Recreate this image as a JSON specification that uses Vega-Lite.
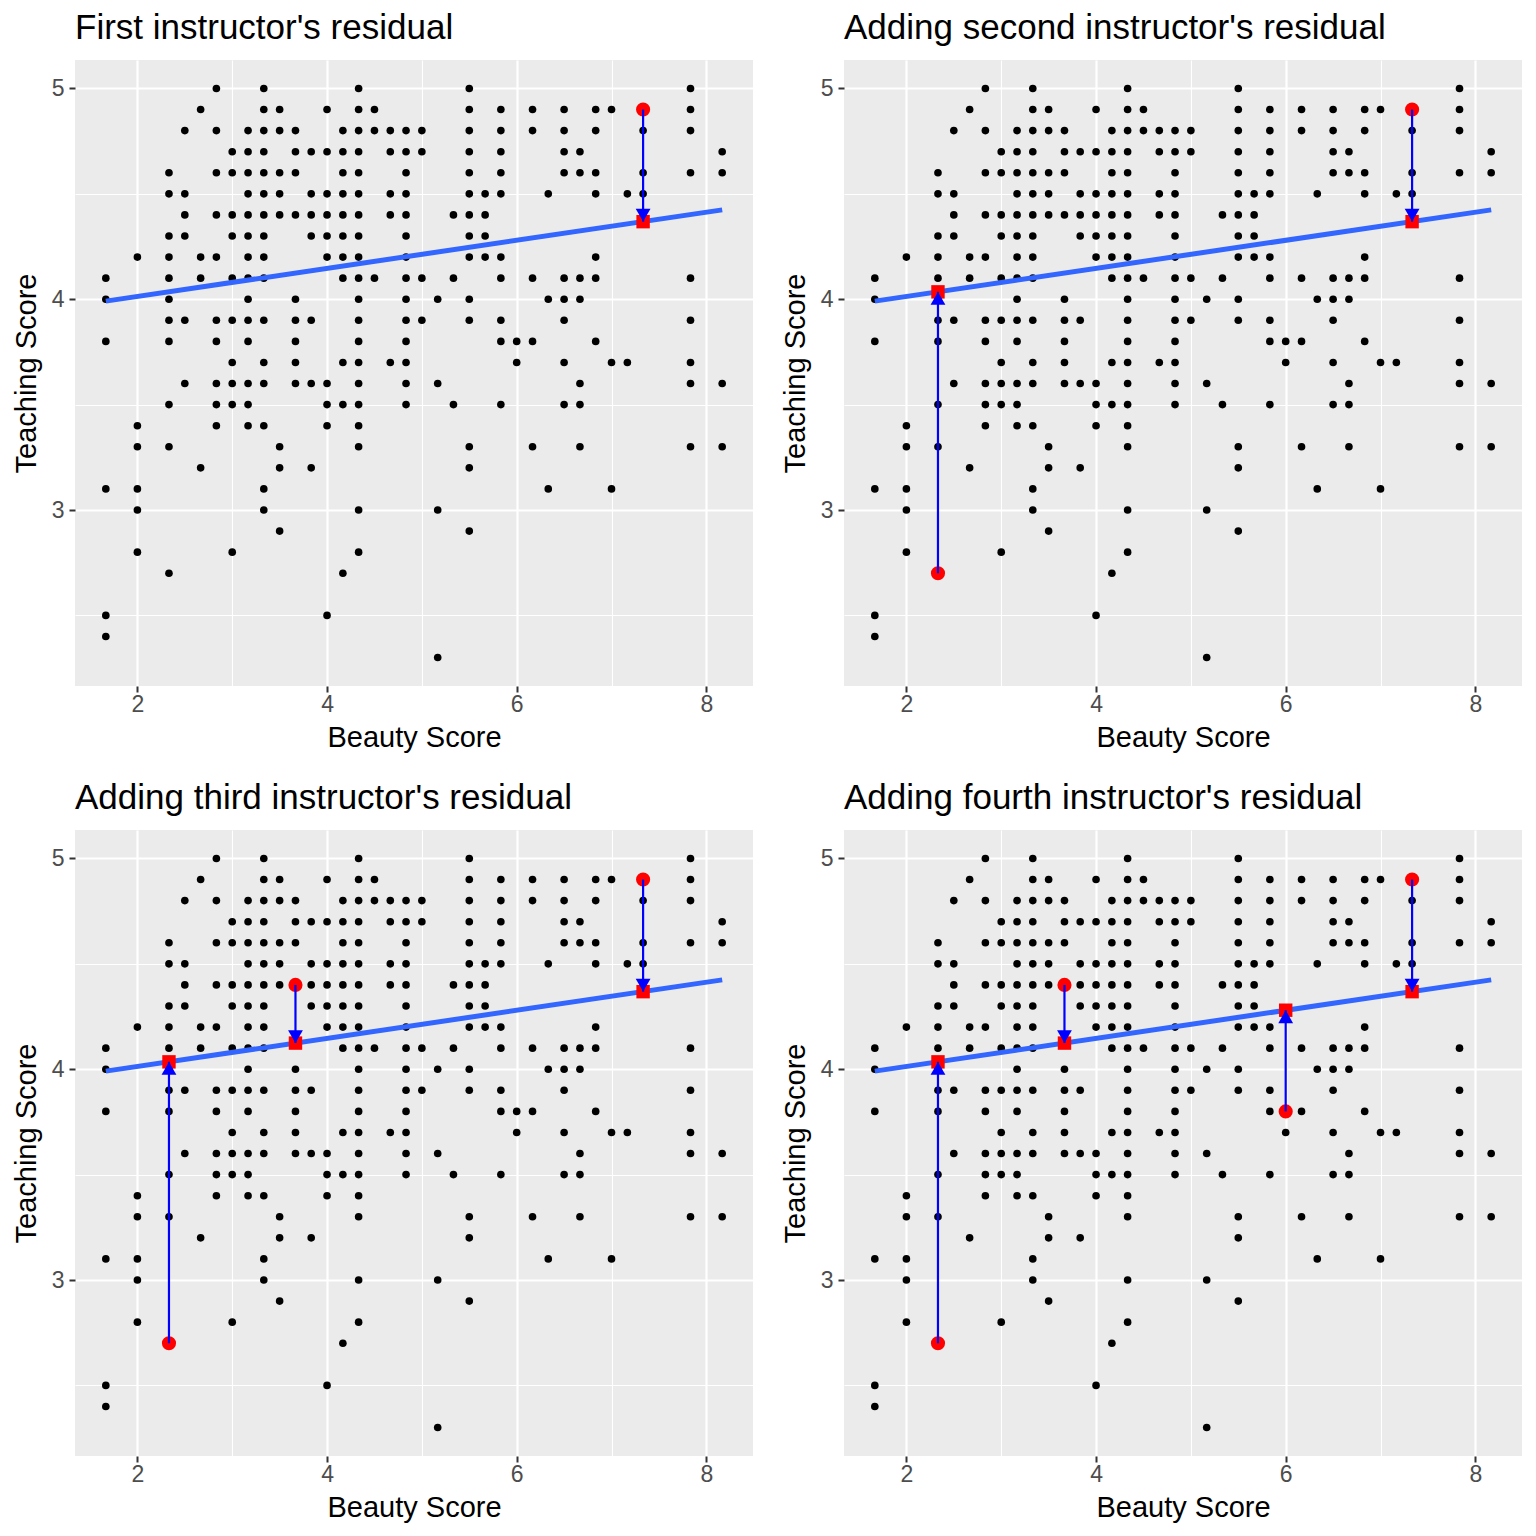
{
"$schema": "https://vega.github.io/schema/vega-lite/v6.json",
"background": "white",
"padding": {"left": 12, "top": 11, "right": 5, "bottom": 5},
"columns": 2,
"spacing": {"row": 29, "column": 28},
"datasets": {
"evals": [
{"bty":2.833,"score":5.0},{"bty":3.333,"score":5.0},{"bty":4.333,"score":5.0},{"bty":5.5,"score":5.0},{"bty":7.833,"score":5.0},
{"bty":2.667,"score":4.9},{"bty":3.333,"score":4.9},{"bty":3.5,"score":4.9},{"bty":4.0,"score":4.9},{"bty":4.333,"score":4.9},{"bty":4.5,"score":4.9},{"bty":5.5,"score":4.9},{"bty":5.833,"score":4.9},{"bty":6.167,"score":4.9},{"bty":6.5,"score":4.9},{"bty":6.833,"score":4.9},{"bty":7.0,"score":4.9},{"bty":7.333,"score":4.9},{"bty":7.833,"score":4.9},
{"bty":2.5,"score":4.8},{"bty":2.833,"score":4.8},{"bty":3.167,"score":4.8},{"bty":3.333,"score":4.8},{"bty":3.5,"score":4.8},{"bty":3.667,"score":4.8},{"bty":4.167,"score":4.8},{"bty":4.333,"score":4.8},{"bty":4.5,"score":4.8},{"bty":4.667,"score":4.8},{"bty":4.833,"score":4.8},{"bty":5.0,"score":4.8},{"bty":5.5,"score":4.8},{"bty":5.833,"score":4.8},{"bty":6.167,"score":4.8},{"bty":6.5,"score":4.8},{"bty":6.833,"score":4.8},{"bty":7.333,"score":4.8},{"bty":7.833,"score":4.8},
{"bty":3.0,"score":4.7},{"bty":3.167,"score":4.7},{"bty":3.333,"score":4.7},{"bty":3.667,"score":4.7},{"bty":3.833,"score":4.7},{"bty":4.0,"score":4.7},{"bty":4.167,"score":4.7},{"bty":4.333,"score":4.7},{"bty":4.667,"score":4.7},{"bty":4.833,"score":4.7},{"bty":5.0,"score":4.7},{"bty":5.5,"score":4.7},{"bty":5.833,"score":4.7},{"bty":6.5,"score":4.7},{"bty":6.667,"score":4.7},{"bty":8.167,"score":4.7},
{"bty":2.333,"score":4.6},{"bty":2.833,"score":4.6},{"bty":3.0,"score":4.6},{"bty":3.167,"score":4.6},{"bty":3.333,"score":4.6},{"bty":3.5,"score":4.6},{"bty":3.667,"score":4.6},{"bty":4.167,"score":4.6},{"bty":4.333,"score":4.6},{"bty":4.833,"score":4.6},{"bty":5.5,"score":4.6},{"bty":5.833,"score":4.6},{"bty":6.5,"score":4.6},{"bty":6.667,"score":4.6},{"bty":6.833,"score":4.6},{"bty":7.333,"score":4.6},{"bty":7.833,"score":4.6},{"bty":8.167,"score":4.6},
{"bty":2.333,"score":4.5},{"bty":2.5,"score":4.5},{"bty":3.167,"score":4.5},{"bty":3.333,"score":4.5},{"bty":3.5,"score":4.5},{"bty":3.833,"score":4.5},{"bty":4.0,"score":4.5},{"bty":4.167,"score":4.5},{"bty":4.333,"score":4.5},{"bty":4.667,"score":4.5},{"bty":4.833,"score":4.5},{"bty":5.5,"score":4.5},{"bty":5.667,"score":4.5},{"bty":5.833,"score":4.5},{"bty":6.333,"score":4.5},{"bty":6.833,"score":4.5},{"bty":7.167,"score":4.5},{"bty":7.333,"score":4.5},
{"bty":2.5,"score":4.4},{"bty":2.833,"score":4.4},{"bty":3.0,"score":4.4},{"bty":3.167,"score":4.4},{"bty":3.333,"score":4.4},{"bty":3.5,"score":4.4},{"bty":3.667,"score":4.4},{"bty":3.833,"score":4.4},{"bty":4.0,"score":4.4},{"bty":4.167,"score":4.4},{"bty":4.333,"score":4.4},{"bty":4.667,"score":4.4},{"bty":4.833,"score":4.4},{"bty":5.333,"score":4.4},{"bty":5.5,"score":4.4},{"bty":5.667,"score":4.4},
{"bty":2.333,"score":4.3},{"bty":2.5,"score":4.3},{"bty":3.0,"score":4.3},{"bty":3.167,"score":4.3},{"bty":3.333,"score":4.3},{"bty":3.833,"score":4.3},{"bty":4.0,"score":4.3},{"bty":4.167,"score":4.3},{"bty":4.333,"score":4.3},{"bty":4.833,"score":4.3},{"bty":5.5,"score":4.3},{"bty":5.667,"score":4.3},
{"bty":2.0,"score":4.2},{"bty":2.333,"score":4.2},{"bty":2.667,"score":4.2},{"bty":2.833,"score":4.2},{"bty":3.167,"score":4.2},{"bty":3.333,"score":4.2},{"bty":4.0,"score":4.2},{"bty":4.167,"score":4.2},{"bty":4.333,"score":4.2},{"bty":4.833,"score":4.2},{"bty":5.5,"score":4.2},{"bty":5.667,"score":4.2},{"bty":5.833,"score":4.2},{"bty":6.833,"score":4.2},
{"bty":1.667,"score":4.1},{"bty":2.333,"score":4.1},{"bty":2.667,"score":4.1},{"bty":3.0,"score":4.1},{"bty":3.167,"score":4.1},{"bty":3.333,"score":4.1},{"bty":4.167,"score":4.1},{"bty":4.333,"score":4.1},{"bty":4.5,"score":4.1},{"bty":4.833,"score":4.1},{"bty":5.0,"score":4.1},{"bty":5.333,"score":4.1},{"bty":5.833,"score":4.1},{"bty":6.167,"score":4.1},{"bty":6.5,"score":4.1},{"bty":6.667,"score":4.1},{"bty":6.833,"score":4.1},{"bty":7.833,"score":4.1},
{"bty":1.667,"score":4.0},{"bty":2.333,"score":4.0},{"bty":3.167,"score":4.0},{"bty":3.667,"score":4.0},{"bty":4.333,"score":4.0},{"bty":4.833,"score":4.0},{"bty":5.167,"score":4.0},{"bty":5.5,"score":4.0},{"bty":6.333,"score":4.0},{"bty":6.5,"score":4.0},{"bty":6.667,"score":4.0},
{"bty":2.333,"score":3.9},{"bty":2.5,"score":3.9},{"bty":2.833,"score":3.9},{"bty":3.0,"score":3.9},{"bty":3.167,"score":3.9},{"bty":3.333,"score":3.9},{"bty":3.667,"score":3.9},{"bty":3.833,"score":3.9},{"bty":4.333,"score":3.9},{"bty":4.833,"score":3.9},{"bty":5.0,"score":3.9},{"bty":5.5,"score":3.9},{"bty":5.833,"score":3.9},{"bty":6.5,"score":3.9},{"bty":7.833,"score":3.9},
{"bty":1.667,"score":3.8},{"bty":2.333,"score":3.8},{"bty":2.833,"score":3.8},{"bty":3.167,"score":3.8},{"bty":3.667,"score":3.8},{"bty":4.333,"score":3.8},{"bty":4.833,"score":3.8},{"bty":5.833,"score":3.8},{"bty":6.0,"score":3.8},{"bty":6.167,"score":3.8},{"bty":6.833,"score":3.8},
{"bty":3.0,"score":3.7},{"bty":3.333,"score":3.7},{"bty":3.667,"score":3.7},{"bty":4.167,"score":3.7},{"bty":4.333,"score":3.7},{"bty":4.667,"score":3.7},{"bty":4.833,"score":3.7},{"bty":6.0,"score":3.7},{"bty":6.5,"score":3.7},{"bty":7.0,"score":3.7},{"bty":7.167,"score":3.7},{"bty":7.833,"score":3.7},
{"bty":2.5,"score":3.6},{"bty":2.833,"score":3.6},{"bty":3.0,"score":3.6},{"bty":3.167,"score":3.6},{"bty":3.333,"score":3.6},{"bty":3.667,"score":3.6},{"bty":3.833,"score":3.6},{"bty":4.0,"score":3.6},{"bty":4.333,"score":3.6},{"bty":4.833,"score":3.6},{"bty":5.167,"score":3.6},{"bty":6.667,"score":3.6},{"bty":7.833,"score":3.6},{"bty":8.167,"score":3.6},
{"bty":2.333,"score":3.5},{"bty":2.833,"score":3.5},{"bty":3.0,"score":3.5},{"bty":3.167,"score":3.5},{"bty":4.0,"score":3.5},{"bty":4.167,"score":3.5},{"bty":4.333,"score":3.5},{"bty":4.833,"score":3.5},{"bty":5.333,"score":3.5},{"bty":5.833,"score":3.5},{"bty":6.5,"score":3.5},{"bty":6.667,"score":3.5},
{"bty":2.0,"score":3.4},{"bty":2.833,"score":3.4},{"bty":3.167,"score":3.4},{"bty":3.333,"score":3.4},{"bty":4.0,"score":3.4},{"bty":4.333,"score":3.4},
{"bty":2.0,"score":3.3},{"bty":2.333,"score":3.3},{"bty":3.5,"score":3.3},{"bty":4.333,"score":3.3},{"bty":5.5,"score":3.3},{"bty":6.167,"score":3.3},{"bty":6.667,"score":3.3},{"bty":7.833,"score":3.3},{"bty":8.167,"score":3.3},
{"bty":2.667,"score":3.2},{"bty":3.5,"score":3.2},{"bty":3.833,"score":3.2},{"bty":5.5,"score":3.2},
{"bty":1.667,"score":3.1},{"bty":2.0,"score":3.1},{"bty":3.333,"score":3.1},{"bty":6.333,"score":3.1},{"bty":7.0,"score":3.1},
{"bty":2.0,"score":3.0},{"bty":3.333,"score":3.0},{"bty":4.333,"score":3.0},{"bty":5.167,"score":3.0},
{"bty":3.5,"score":2.9},{"bty":5.5,"score":2.9},
{"bty":2.0,"score":2.8},{"bty":3.0,"score":2.8},{"bty":4.333,"score":2.8},
{"bty":2.333,"score":2.7},{"bty":4.167,"score":2.7},
{"bty":1.667,"score":2.5},{"bty":4.0,"score":2.5},
{"bty":1.667,"score":2.4},
{"bty":5.167,"score":2.3}
],
"fit": [{"bty":1.667,"score":3.991},{"bty":8.167,"score":4.424}],
"resid": [
{"instructor":1,"bty":7.333,"score":4.9,"fitted":4.368,"dir":"down"},
{"instructor":2,"bty":2.333,"score":2.7,"fitted":4.035,"dir":"up"},
{"instructor":3,"bty":3.667,"score":4.4,"fitted":4.124,"dir":"down"},
{"instructor":4,"bty":6.0,"score":3.8,"fitted":4.280,"dir":"up"}
]
},
"concat": [
{"width":678,"height":626,"title":"First instructor's residual",
"encoding":{
"x":{"field":"bty","type":"quantitative","title":"Beauty Score","scale":{"domain":[1.342,8.492],"nice":false,"zero":false},"axis":{"values":[2,3,4,5,6,7,8],"labelPadding":1,"titlePadding":7,"labelExpr":"datum.value % 2 === 0 ? format(datum.value,'d') : ''","gridWidth":{"condition":{"test":"datum.value % 2 === 0","value":2.2},"value":1.1},"tickOpacity":{"condition":{"test":"datum.value % 2 === 0","value":1},"value":0}}},
"y":{"field":"score","type":"quantitative","title":"Teaching Score","scale":{"domain":[2.165,5.135],"nice":false,"zero":false},"axis":{"values":[2.5,3,3.5,4,4.5,5],"labelPadding":5,"titlePadding":10,"labelExpr":"datum.value % 1 === 0 ? format(datum.value,'d') : ''","gridWidth":{"condition":{"test":"datum.value % 1 === 0","value":2.2},"value":1.1},"tickOpacity":{"condition":{"test":"datum.value % 1 === 0","value":1},"value":0}}}},
"layer":[
{"data":{"name":"evals"},"mark":{"type":"point","filled":true,"shape":"circle","size":58,"color":"black","opacity":1}},
{"data":{"name":"fit"},"mark":{"type":"line","color":"#3366FF","strokeWidth":5}},
{"data":{"name":"resid"},"transform":[{"filter":"datum.instructor <= 1"}],"mark":{"type":"point","filled":true,"shape":"circle","size":200,"color":"#FF0000","opacity":1}},
{"data":{"name":"resid"},"transform":[{"filter":"datum.instructor <= 1"}],"mark":{"type":"point","filled":true,"shape":"square","size":180,"color":"#FF0000","opacity":1},"encoding":{"y":{"field":"fitted","type":"quantitative","title":"Teaching Score","scale":{"domain":[2.165,5.135],"nice":false,"zero":false}}}},
{"data":{"name":"resid"},"transform":[{"filter":"datum.instructor <= 1"}],"mark":{"type":"rule","color":"#0000FF","strokeWidth":2.2},"encoding":{"y2":{"field":"fitted"}}},
{"data":{"name":"resid"},"transform":[{"filter":"datum.instructor <= 1 && datum.dir == 'down'"}],"mark":{"type":"point","filled":true,"shape":"triangle-down","size":220,"color":"#0000FF","opacity":1,"yOffset":-6.5},"encoding":{"y":{"field":"fitted","type":"quantitative","title":"Teaching Score","scale":{"domain":[2.165,5.135],"nice":false,"zero":false}}}},
{"data":{"name":"resid"},"transform":[{"filter":"datum.instructor <= 1 && datum.dir == 'up'"}],"mark":{"type":"point","filled":true,"shape":"triangle-up","size":220,"color":"#0000FF","opacity":1,"yOffset":6.5},"encoding":{"y":{"field":"fitted","type":"quantitative","title":"Teaching Score","scale":{"domain":[2.165,5.135],"nice":false,"zero":false}}}}
]},
{"width":678,"height":626,"title":"Adding second instructor's residual",
"encoding":{
"x":{"field":"bty","type":"quantitative","title":"Beauty Score","scale":{"domain":[1.342,8.492],"nice":false,"zero":false},"axis":{"values":[2,3,4,5,6,7,8],"labelPadding":1,"titlePadding":7,"labelExpr":"datum.value % 2 === 0 ? format(datum.value,'d') : ''","gridWidth":{"condition":{"test":"datum.value % 2 === 0","value":2.2},"value":1.1},"tickOpacity":{"condition":{"test":"datum.value % 2 === 0","value":1},"value":0}}},
"y":{"field":"score","type":"quantitative","title":"Teaching Score","scale":{"domain":[2.165,5.135],"nice":false,"zero":false},"axis":{"values":[2.5,3,3.5,4,4.5,5],"labelPadding":5,"titlePadding":10,"labelExpr":"datum.value % 1 === 0 ? format(datum.value,'d') : ''","gridWidth":{"condition":{"test":"datum.value % 1 === 0","value":2.2},"value":1.1},"tickOpacity":{"condition":{"test":"datum.value % 1 === 0","value":1},"value":0}}}},
"layer":[
{"data":{"name":"evals"},"mark":{"type":"point","filled":true,"shape":"circle","size":58,"color":"black","opacity":1}},
{"data":{"name":"fit"},"mark":{"type":"line","color":"#3366FF","strokeWidth":5}},
{"data":{"name":"resid"},"transform":[{"filter":"datum.instructor <= 2"}],"mark":{"type":"point","filled":true,"shape":"circle","size":200,"color":"#FF0000","opacity":1}},
{"data":{"name":"resid"},"transform":[{"filter":"datum.instructor <= 2"}],"mark":{"type":"point","filled":true,"shape":"square","size":180,"color":"#FF0000","opacity":1},"encoding":{"y":{"field":"fitted","type":"quantitative","title":"Teaching Score","scale":{"domain":[2.165,5.135],"nice":false,"zero":false}}}},
{"data":{"name":"resid"},"transform":[{"filter":"datum.instructor <= 2"}],"mark":{"type":"rule","color":"#0000FF","strokeWidth":2.2},"encoding":{"y2":{"field":"fitted"}}},
{"data":{"name":"resid"},"transform":[{"filter":"datum.instructor <= 2 && datum.dir == 'down'"}],"mark":{"type":"point","filled":true,"shape":"triangle-down","size":220,"color":"#0000FF","opacity":1,"yOffset":-6.5},"encoding":{"y":{"field":"fitted","type":"quantitative","title":"Teaching Score","scale":{"domain":[2.165,5.135],"nice":false,"zero":false}}}},
{"data":{"name":"resid"},"transform":[{"filter":"datum.instructor <= 2 && datum.dir == 'up'"}],"mark":{"type":"point","filled":true,"shape":"triangle-up","size":220,"color":"#0000FF","opacity":1,"yOffset":6.5},"encoding":{"y":{"field":"fitted","type":"quantitative","title":"Teaching Score","scale":{"domain":[2.165,5.135],"nice":false,"zero":false}}}}
]},
{"width":678,"height":626,"title":"Adding third instructor's residual",
"encoding":{
"x":{"field":"bty","type":"quantitative","title":"Beauty Score","scale":{"domain":[1.342,8.492],"nice":false,"zero":false},"axis":{"values":[2,3,4,5,6,7,8],"labelPadding":1,"titlePadding":7,"labelExpr":"datum.value % 2 === 0 ? format(datum.value,'d') : ''","gridWidth":{"condition":{"test":"datum.value % 2 === 0","value":2.2},"value":1.1},"tickOpacity":{"condition":{"test":"datum.value % 2 === 0","value":1},"value":0}}},
"y":{"field":"score","type":"quantitative","title":"Teaching Score","scale":{"domain":[2.165,5.135],"nice":false,"zero":false},"axis":{"values":[2.5,3,3.5,4,4.5,5],"labelPadding":5,"titlePadding":10,"labelExpr":"datum.value % 1 === 0 ? format(datum.value,'d') : ''","gridWidth":{"condition":{"test":"datum.value % 1 === 0","value":2.2},"value":1.1},"tickOpacity":{"condition":{"test":"datum.value % 1 === 0","value":1},"value":0}}}},
"layer":[
{"data":{"name":"evals"},"mark":{"type":"point","filled":true,"shape":"circle","size":58,"color":"black","opacity":1}},
{"data":{"name":"fit"},"mark":{"type":"line","color":"#3366FF","strokeWidth":5}},
{"data":{"name":"resid"},"transform":[{"filter":"datum.instructor <= 3"}],"mark":{"type":"point","filled":true,"shape":"circle","size":200,"color":"#FF0000","opacity":1}},
{"data":{"name":"resid"},"transform":[{"filter":"datum.instructor <= 3"}],"mark":{"type":"point","filled":true,"shape":"square","size":180,"color":"#FF0000","opacity":1},"encoding":{"y":{"field":"fitted","type":"quantitative","title":"Teaching Score","scale":{"domain":[2.165,5.135],"nice":false,"zero":false}}}},
{"data":{"name":"resid"},"transform":[{"filter":"datum.instructor <= 3"}],"mark":{"type":"rule","color":"#0000FF","strokeWidth":2.2},"encoding":{"y2":{"field":"fitted"}}},
{"data":{"name":"resid"},"transform":[{"filter":"datum.instructor <= 3 && datum.dir == 'down'"}],"mark":{"type":"point","filled":true,"shape":"triangle-down","size":220,"color":"#0000FF","opacity":1,"yOffset":-6.5},"encoding":{"y":{"field":"fitted","type":"quantitative","title":"Teaching Score","scale":{"domain":[2.165,5.135],"nice":false,"zero":false}}}},
{"data":{"name":"resid"},"transform":[{"filter":"datum.instructor <= 3 && datum.dir == 'up'"}],"mark":{"type":"point","filled":true,"shape":"triangle-up","size":220,"color":"#0000FF","opacity":1,"yOffset":6.5},"encoding":{"y":{"field":"fitted","type":"quantitative","title":"Teaching Score","scale":{"domain":[2.165,5.135],"nice":false,"zero":false}}}}
]},
{"width":678,"height":626,"title":"Adding fourth instructor's residual",
"encoding":{
"x":{"field":"bty","type":"quantitative","title":"Beauty Score","scale":{"domain":[1.342,8.492],"nice":false,"zero":false},"axis":{"values":[2,3,4,5,6,7,8],"labelPadding":1,"titlePadding":7,"labelExpr":"datum.value % 2 === 0 ? format(datum.value,'d') : ''","gridWidth":{"condition":{"test":"datum.value % 2 === 0","value":2.2},"value":1.1},"tickOpacity":{"condition":{"test":"datum.value % 2 === 0","value":1},"value":0}}},
"y":{"field":"score","type":"quantitative","title":"Teaching Score","scale":{"domain":[2.165,5.135],"nice":false,"zero":false},"axis":{"values":[2.5,3,3.5,4,4.5,5],"labelPadding":5,"titlePadding":10,"labelExpr":"datum.value % 1 === 0 ? format(datum.value,'d') : ''","gridWidth":{"condition":{"test":"datum.value % 1 === 0","value":2.2},"value":1.1},"tickOpacity":{"condition":{"test":"datum.value % 1 === 0","value":1},"value":0}}}},
"layer":[
{"data":{"name":"evals"},"mark":{"type":"point","filled":true,"shape":"circle","size":58,"color":"black","opacity":1}},
{"data":{"name":"fit"},"mark":{"type":"line","color":"#3366FF","strokeWidth":5}},
{"data":{"name":"resid"},"transform":[{"filter":"datum.instructor <= 4"}],"mark":{"type":"point","filled":true,"shape":"circle","size":200,"color":"#FF0000","opacity":1}},
{"data":{"name":"resid"},"transform":[{"filter":"datum.instructor <= 4"}],"mark":{"type":"point","filled":true,"shape":"square","size":180,"color":"#FF0000","opacity":1},"encoding":{"y":{"field":"fitted","type":"quantitative","title":"Teaching Score","scale":{"domain":[2.165,5.135],"nice":false,"zero":false}}}},
{"data":{"name":"resid"},"transform":[{"filter":"datum.instructor <= 4"}],"mark":{"type":"rule","color":"#0000FF","strokeWidth":2.2},"encoding":{"y2":{"field":"fitted"}}},
{"data":{"name":"resid"},"transform":[{"filter":"datum.instructor <= 4 && datum.dir == 'down'"}],"mark":{"type":"point","filled":true,"shape":"triangle-down","size":220,"color":"#0000FF","opacity":1,"yOffset":-6.5},"encoding":{"y":{"field":"fitted","type":"quantitative","title":"Teaching Score","scale":{"domain":[2.165,5.135],"nice":false,"zero":false}}}},
{"data":{"name":"resid"},"transform":[{"filter":"datum.instructor <= 4 && datum.dir == 'up'"}],"mark":{"type":"point","filled":true,"shape":"triangle-up","size":220,"color":"#0000FF","opacity":1,"yOffset":6.5},"encoding":{"y":{"field":"fitted","type":"quantitative","title":"Teaching Score","scale":{"domain":[2.165,5.135],"nice":false,"zero":false}}}}
]}
],
"config": {
"font": "Liberation Sans",
"view": {"fill": "#EBEBEB", "stroke": null},
"axis": {"domain": false, "gridColor": "#FFFFFF", "tickColor": "#333333", "tickSize": 6, "tickWidth": 2, "labelColor": "#4D4D4D", "labelFontSize": 23, "labelOverlap": false, "titleFontSize": 29, "titleFontWeight": "normal", "titleColor": "#000000"},
"title": {"fontSize": 35, "fontWeight": "normal", "anchor": "start", "frame": "group", "color": "#000000", "offset": 14}
}
}
